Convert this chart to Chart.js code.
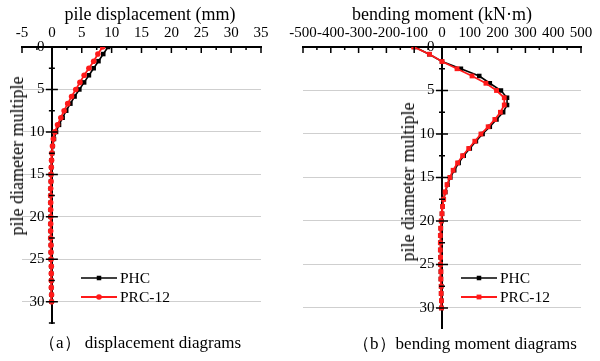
<!DOCTYPE html>
<html><head><meta charset="utf-8">
<script src="https://cdn.jsdelivr.net/npm/chart.js@4.4.0/dist/chart.umd.min.js"></script>
<style>
html,body{margin:0;padding:0;background:#fff;}
#wrap{position:relative;width:600px;height:361px;overflow:hidden;font-family:"Liberation Serif","Times New Roman",serif;color:#000;}
canvas{position:absolute;left:0;top:0;}
.t{position:absolute;white-space:nowrap;line-height:1;transform:translate(-50%,-50%);}
.r{transform:translate(-50%,-50%) rotate(-90deg);}
</style></head><body>
<div id="wrap">
<canvas id="c1" width="600" height="361"></canvas>
<canvas id="c2" width="600" height="361"></canvas>
<div class="t" style="left:150px;top:14px;font-size:18px;">pile displacement (mm)</div>
<div class="t" style="left:442px;top:14px;font-size:18px;">bending moment (kN·m)</div>
<div class="t r" style="left:17px;top:156px;font-size:18px;">pile diameter multiple</div>
<div class="t r" style="left:408px;top:182px;font-size:18px;">pile diameter multiple</div>
<div class="t" style="left:140px;top:342px;font-size:17px;">（a） displacement diagrams</div>
<div class="t" style="left:465px;top:343px;font-size:17px;">（b）bending moment diagrams</div>
</div>
<script>
// depth (pile diameter multiple)
const depth = [0, 0.83, 1.67, 2.5, 3.33, 4.17, 5, 5.83, 6.67, 7.5, 8.33, 9.17, 10, 10.83, 11.67, 12.5, 13.33, 14.17, 15, 15.83, 16.67, 17.5, 18.33, 19.17, 20, 20.83, 21.67, 22.5, 23.33, 24.17, 25, 25.83, 26.67, 27.5, 28.33, 29.17, 30];
// pile displacement (mm)
const dispPHC = [9.4, 8.6, 7.8, 7.0, 6.2, 5.4, 4.6, 3.8, 3.1, 2.4, 1.8, 1.2, 0.7, 0.35, 0.15, 0.05, -0.05, -0.1, -0.15, -0.15, -0.2, -0.2, -0.2, -0.2, -0.2, -0.2, -0.2, -0.2, -0.15, -0.15, -0.15, -0.1, -0.1, -0.1, -0.1, -0.05, -0.05];
const dispPRC = [8.5, 7.7, 7.0, 6.2, 5.4, 4.7, 4.0, 3.3, 2.65, 2.05, 1.5, 0.95, 0.5, 0.25, 0.1, 0, -0.05, -0.1, -0.15, -0.15, -0.2, -0.2, -0.2, -0.2, -0.2, -0.2, -0.2, -0.2, -0.15, -0.15, -0.15, -0.1, -0.1, -0.1, -0.1, -0.05, -0.05];
// bending moment (kN·m)
const momPHC = [-98, -46, 0, 68, 134, 172, 212, 234, 234, 220, 196, 172, 146, 122, 100, 78, 60, 44, 30, 20, 12, 6, 2, 0, -2, -4, -5, -6, -6, -5, -5, -4, -4, -3, -3, -2, -2];
const momPRC = [-102, -45, 0, 54, 108, 158, 196, 224, 224, 210, 190, 166, 140, 118, 96, 74, 56, 40, 28, 18, 11, 6, 2, 0, -3, -5, -6, -6, -6, -5, -5, -4, -4, -3, -3, -2, -2];
const seriesNames = ['PHC', 'PRC-12'];
const yTicksStep = 5;

const FONT = '"Liberation Serif","Times New Roman",serif';
const pts = (ys, xs) => ys.map((y, i) => ({x: xs[i], y}));

const tickPlugin = {
  id: 'tk',
  afterDraw(chart, args, o) {
    const ctx = chart.ctx, xs = chart.scales.x, ys = chart.scales.y;
    const top = chart.chartArea.top;
    ctx.save();
    ctx.strokeStyle = '#000'; ctx.lineWidth = 1.5;
    ctx.beginPath();
    for (let v = xs.min; v <= xs.max + 1e-9; v += o.xMinor) {
      const px = xs.getPixelForValue(v);
      const major = Math.abs(Math.round(v / o.xMajor) * o.xMajor - v) < 1e-6;
      ctx.moveTo(px, top); ctx.lineTo(px, top + (major ? 6 : 3));
    }
    const ax = xs.getPixelForValue(0);
    for (let v = o.yMinor; v <= ys.max + 1e-9; v += o.yMinor) {
      const py = ys.getPixelForValue(v);
      const major = Math.abs(Math.round(v / o.yMajor) * o.yMajor - v) < 1e-6;
      const l = major ? 6 : 3;
      ctx.moveTo(ax - l, py); ctx.lineTo(ax + l, py);
    }
    ctx.stroke();
    ctx.restore();
  }
};

const legendPlugin = {
  id: 'lg',
  afterDraw(chart, args, o) {
    const ctx = chart.ctx;
    ctx.save();
    chart.data.datasets.forEach((ds, i) => {
      const y = o.ys[i];
      ctx.strokeStyle = ds.borderColor; ctx.lineWidth = ds.borderWidth;
      ctx.beginPath(); ctx.moveTo(o.x1, y); ctx.lineTo(o.x2, y); ctx.stroke();
      const cx = (o.x1 + o.x2) / 2;
      ctx.fillStyle = ds.backgroundColor;
      ctx.beginPath();
      if (ds.pointStyle === 'circle') ctx.arc(cx, y, ds.pointRadius, 0, Math.PI * 2);
      else { const s = ds.pointRadius * Math.SQRT1_2; ctx.rect(cx - s, y - s, 2 * s, 2 * s); }
      ctx.fill();
      ctx.fillStyle = '#000';
      ctx.font = '15.5px ' + FONT;
      ctx.textBaseline = 'middle'; ctx.textAlign = 'left';
      ctx.fillText(ds.label, o.tx, y + 1);
    });
    ctx.restore();
  }
};

function makeChart(id, c) {
  return new Chart(document.getElementById(id), {
    type: 'scatter',
    data: {datasets: [
      {label: seriesNames[0], data: pts(depth, c.a), borderColor: '#000', backgroundColor: '#000', pointStyle: 'rect', pointRadius: 3.2, pointBorderWidth: 0, borderWidth: 1.6, showLine: true, order: 2},
      {label: seriesNames[1], data: pts(depth, c.b), borderColor: '#ff1a1a', backgroundColor: '#ff1a1a', pointStyle: c.redStyle, pointRadius: c.redR, pointBorderWidth: 0, borderWidth: 1.8, showLine: true, order: 1}
    ]},
    options: {
      responsive: false, animation: false,
      layout: {padding: {left: c.left, right: 600 - c.right, top: 0, bottom: 361 - c.bottom}},
      plugins: {legend: {display: false}, tooltip: {enabled: false}, tk: c.tk, lg: c.lg},
      scales: {
        x: {type: 'linear', position: 'top', min: c.xmin, max: c.xmax,
            ticks: {stepSize: c.xstep, autoSkip: false, maxRotation: 0, padding: 5, color: '#000', font: {family: FONT, size: 15}},
            grid: {color: 'rgba(0,0,0,0)', drawTicks: false},
            border: {display: true, color: '#000', width: 2},
            afterFit: s => { s.height = 47; }},
        y: {type: 'linear', reverse: true, min: 0, max: c.ymax, position: {x: 0},
            ticks: {stepSize: yTicksStep, includeBounds: false, color: '#000', font: {family: FONT, size: 15},
                    callback: v => v + '\u2002'},
            grid: {color: ctx => (ctx.tick && ctx.tick.value === 0) ? 'rgba(0,0,0,0)' : '#cfcfcf', drawTicks: false, lineWidth: 1},
            border: {display: true, color: '#000', width: 2}}
      }
    },
    plugins: [tickPlugin, legendPlugin]
  });
}

makeChart('c1', {a: dispPHC, b: dispPRC, xmin: -5, xmax: 35, xstep: 5, ymax: 32.5,
  left: 22, right: 261, bottom: 323, redStyle: 'circle', redR: 2.8,
  tk: {xMinor: 2.5, xMajor: 5, yMinor: 2.5, yMajor: 5},
  lg: {x1: 81, x2: 117, ys: [278, 297], tx: 120}});
makeChart('c2', {a: momPHC, b: momPRC, xmin: -500, xmax: 500, xstep: 100, ymax: 32.3,
  left: 303, right: 581, bottom: 328, redStyle: 'rect', redR: 3.4,
  tk: {xMinor: 50, xMajor: 100, yMinor: 2.5, yMajor: 5},
  lg: {x1: 461, x2: 497, ys: [278, 297], tx: 500}});
</script>
</body></html>
